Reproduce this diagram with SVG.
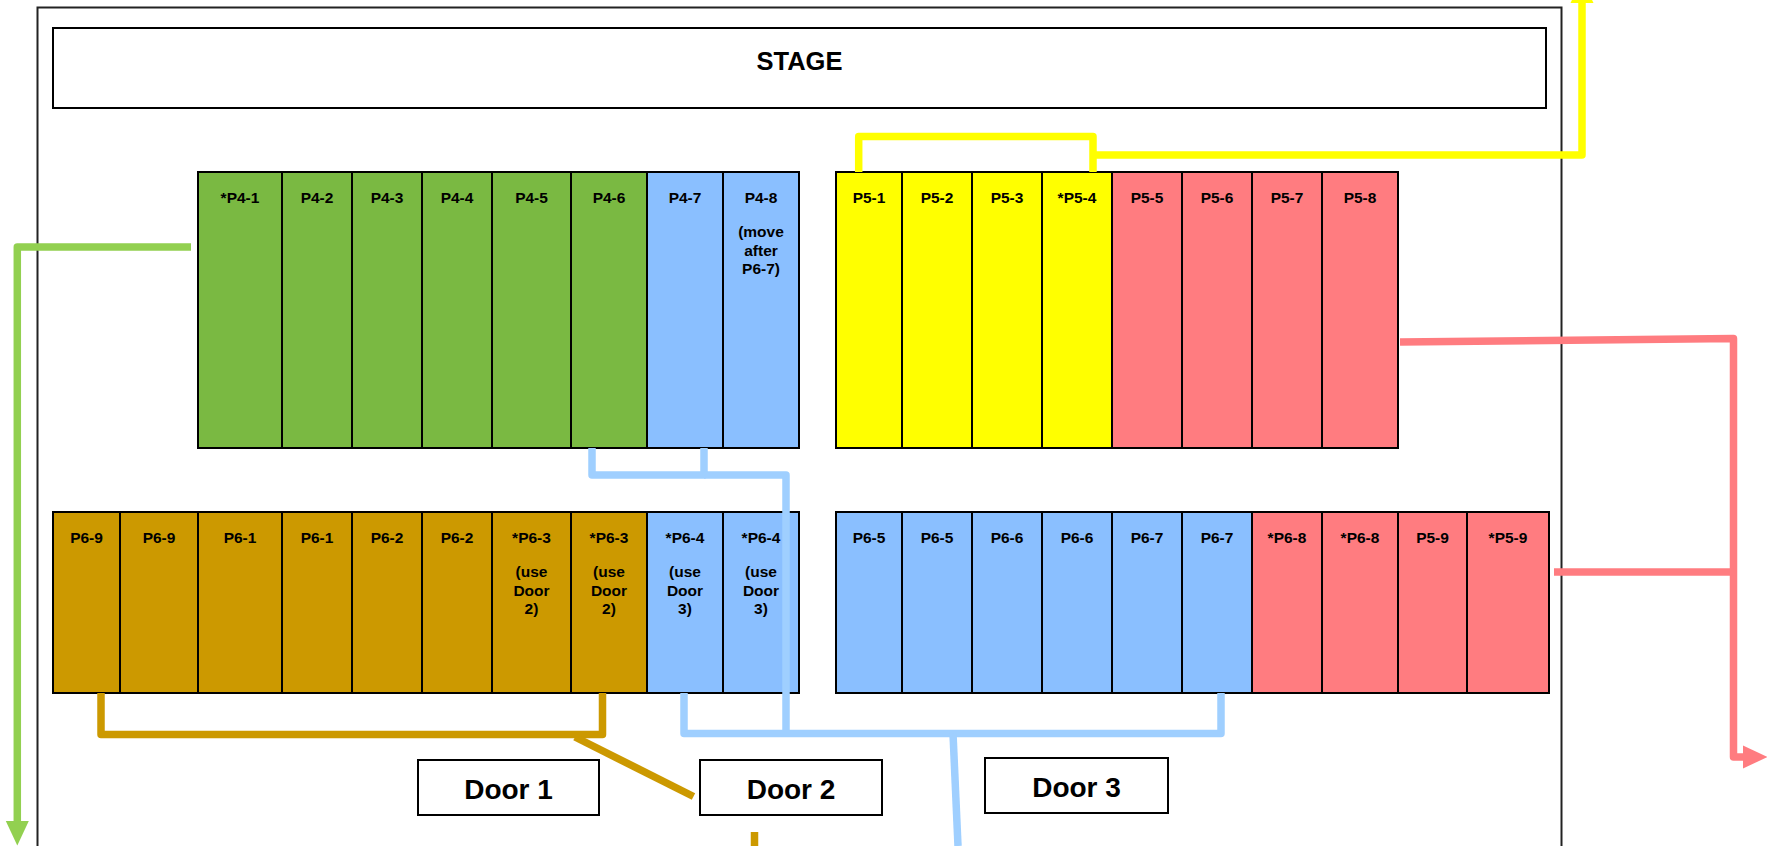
<svg xmlns="http://www.w3.org/2000/svg" width="1767" height="846" viewBox="0 0 1767 846">
<style>
.cell{stroke:#000;stroke-width:2}
.g{fill:#7ab942}.b{fill:#8abfff}.y{fill:#ffff00}.p{fill:#ff7c80}.o{fill:#cc9900}
.lbl{font-family:"Liberation Sans",Arial,sans-serif;font-weight:bold;font-size:15.5px;fill:#000;text-anchor:middle}
.door{fill:#fff;stroke:#000;stroke-width:2}
.dt{font-family:"Liberation Sans",Arial,sans-serif;font-weight:bold;font-size:28px;fill:#000;text-anchor:middle}
.c{fill:none;stroke-width:7.5;stroke-linejoin:round;stroke-linecap:butt}
</style>
<defs>
<marker id="ahG" markerUnits="userSpaceOnUse" markerWidth="25" markerHeight="24" refX="0" refY="11.5" orient="auto" overflow="visible"><path d="M0,0 L24.5,11.5 L0,23 Z" fill="#92d050"/></marker>
<marker id="ahY" markerUnits="userSpaceOnUse" markerWidth="25" markerHeight="24" refX="0" refY="11.5" orient="auto" overflow="visible"><path d="M0,0 L24.5,11.5 L0,23 Z" fill="#ffff00"/></marker>
<marker id="ahP" markerUnits="userSpaceOnUse" markerWidth="25" markerHeight="24" refX="0" refY="11.5" orient="auto" overflow="visible"><path d="M0,0 L24.5,11.5 L0,23 Z" fill="#ff7c80"/></marker>
</defs>
<rect width="1767" height="846" fill="#fff"/>
<g id="room"><rect x="37.5" y="7.5" width="1524" height="860" fill="none" stroke="#222" stroke-width="2"/></g>
<g id="stage"><rect x="53" y="28" width="1493" height="80" fill="#fff" stroke="#000" stroke-width="2"/><text x="799.5" y="70" font-family="Liberation Sans,Arial,sans-serif" font-weight="bold" font-size="25.5" text-anchor="middle">STAGE</text></g>

<g id="P4-1"><rect class="cell g" x="198" y="172" width="84" height="276"/><text class="lbl" x="240" y="203">*P4-1</text></g>
<g id="P4-2"><rect class="cell g" x="282" y="172" width="70" height="276"/><text class="lbl" x="317" y="203">P4-2</text></g>
<g id="P4-3"><rect class="cell g" x="352" y="172" width="70" height="276"/><text class="lbl" x="387" y="203">P4-3</text></g>
<g id="P4-4"><rect class="cell g" x="422" y="172" width="70" height="276"/><text class="lbl" x="457" y="203">P4-4</text></g>
<g id="P4-5"><rect class="cell g" x="492" y="172" width="79" height="276"/><text class="lbl" x="531.5" y="203">P4-5</text></g>
<g id="P4-6"><rect class="cell g" x="571" y="172" width="76" height="276"/><text class="lbl" x="609" y="203">P4-6</text></g>
<g id="P4-7"><rect class="cell b" x="647" y="172" width="76" height="276"/><text class="lbl" x="685" y="203">P4-7</text></g>
<g id="P4-8"><rect class="cell b" x="723" y="172" width="76" height="276"/><text class="lbl" x="761" y="203">P4-8</text><text class="lbl" x="761" y="237">(move</text><text class="lbl" x="761" y="255.5">after</text><text class="lbl" x="761" y="274">P6-7)</text></g>

<g id="P5-1"><rect class="cell y" x="836" y="172" width="66" height="276"/><text class="lbl" x="869" y="203">P5-1</text></g>
<g id="P5-2"><rect class="cell y" x="902" y="172" width="70" height="276"/><text class="lbl" x="937" y="203">P5-2</text></g>
<g id="P5-3"><rect class="cell y" x="972" y="172" width="70" height="276"/><text class="lbl" x="1007" y="203">P5-3</text></g>
<g id="P5-4"><rect class="cell y" x="1042" y="172" width="70" height="276"/><text class="lbl" x="1077" y="203">*P5-4</text></g>
<g id="P5-5"><rect class="cell p" x="1112" y="172" width="70" height="276"/><text class="lbl" x="1147" y="203">P5-5</text></g>
<g id="P5-6"><rect class="cell p" x="1182" y="172" width="70" height="276"/><text class="lbl" x="1217" y="203">P5-6</text></g>
<g id="P5-7"><rect class="cell p" x="1252" y="172" width="70" height="276"/><text class="lbl" x="1287" y="203">P5-7</text></g>
<g id="P5-8"><rect class="cell p" x="1322" y="172" width="76" height="276"/><text class="lbl" x="1360" y="203">P5-8</text></g>

<g id="P6-9a"><rect class="cell o" x="53" y="512" width="67" height="181"/><text class="lbl" x="86.5" y="543">P6-9</text></g>
<g id="P6-9b"><rect class="cell o" x="120" y="512" width="78" height="181"/><text class="lbl" x="159" y="543">P6-9</text></g>
<g id="P6-1a"><rect class="cell o" x="198" y="512" width="84" height="181"/><text class="lbl" x="240" y="543">P6-1</text></g>
<g id="P6-1b"><rect class="cell o" x="282" y="512" width="70" height="181"/><text class="lbl" x="317" y="543">P6-1</text></g>
<g id="P6-2a"><rect class="cell o" x="352" y="512" width="70" height="181"/><text class="lbl" x="387" y="543">P6-2</text></g>
<g id="P6-2b"><rect class="cell o" x="422" y="512" width="70" height="181"/><text class="lbl" x="457" y="543">P6-2</text></g>
<g id="P6-3a"><rect class="cell o" x="492" y="512" width="79" height="181"/><text class="lbl" x="531.5" y="543">*P6-3</text><text class="lbl" x="531.5" y="577">(use</text><text class="lbl" x="531.5" y="596">Door</text><text class="lbl" x="531.5" y="614">2)</text></g>
<g id="P6-3b"><rect class="cell o" x="571" y="512" width="76" height="181"/><text class="lbl" x="609" y="543">*P6-3</text><text class="lbl" x="609" y="577">(use</text><text class="lbl" x="609" y="596">Door</text><text class="lbl" x="609" y="614">2)</text></g>
<g id="P6-4a"><rect class="cell b" x="647" y="512" width="76" height="181"/><text class="lbl" x="685" y="543">*P6-4</text><text class="lbl" x="685" y="577">(use</text><text class="lbl" x="685" y="596">Door</text><text class="lbl" x="685" y="614">3)</text></g>
<g id="P6-4b"><rect class="cell b" x="723" y="512" width="76" height="181"/><text class="lbl" x="761" y="543">*P6-4</text><text class="lbl" x="761" y="577">(use</text><text class="lbl" x="761" y="596">Door</text><text class="lbl" x="761" y="614">3)</text></g>

<g id="P6-5a"><rect class="cell b" x="836" y="512" width="66" height="181"/><text class="lbl" x="869" y="543">P6-5</text></g>
<g id="P6-5b"><rect class="cell b" x="902" y="512" width="70" height="181"/><text class="lbl" x="937" y="543">P6-5</text></g>
<g id="P6-6a"><rect class="cell b" x="972" y="512" width="70" height="181"/><text class="lbl" x="1007" y="543">P6-6</text></g>
<g id="P6-6b"><rect class="cell b" x="1042" y="512" width="70" height="181"/><text class="lbl" x="1077" y="543">P6-6</text></g>
<g id="P6-7a"><rect class="cell b" x="1112" y="512" width="70" height="181"/><text class="lbl" x="1147" y="543">P6-7</text></g>
<g id="P6-7b"><rect class="cell b" x="1182" y="512" width="70" height="181"/><text class="lbl" x="1217" y="543">P6-7</text></g>
<g id="P6-8a"><rect class="cell p" x="1252" y="512" width="70" height="181"/><text class="lbl" x="1287" y="543">*P6-8</text></g>
<g id="P6-8b"><rect class="cell p" x="1322" y="512" width="76" height="181"/><text class="lbl" x="1360" y="543">*P6-8</text></g>
<g id="P5-9a"><rect class="cell p" x="1398" y="512" width="69" height="181"/><text class="lbl" x="1432.5" y="543">P5-9</text></g>
<g id="P5-9b"><rect class="cell p" x="1467" y="512" width="82" height="181"/><text class="lbl" x="1508" y="543">*P5-9</text></g>

<g id="door1"><rect class="door" x="418" y="760" width="181" height="55"/><text class="dt" x="508.5" y="799">Door 1</text></g>
<g id="door2"><rect class="door" x="700" y="760" width="182" height="55"/><text class="dt" x="791" y="799">Door 2</text></g>
<g id="door3"><rect class="door" x="985" y="758" width="183" height="55"/><text class="dt" x="1076.5" y="797">Door 3</text></g>

<g id="connectors">
<path class="c" stroke="#92d050" d="M191,247 L17.3,247 L17.3,821" marker-end="url(#ahG)"/>
<path class="c" stroke="#ffff00" d="M858.7,172 L858.7,136.5 L1093,136.5 L1093,172"/>
<path class="c" stroke="#ffff00" d="M1093,155 L1582,155 L1582,3" marker-end="url(#ahY)"/>
<path class="c" stroke="#ff7c80" d="M1400,342 L1733.5,338.5 L1733.5,757 L1743,757" marker-end="url(#ahP)"/>
<path class="c" stroke="#ff7c80" d="M1554,572 L1733.5,572"/>
<path class="c" stroke="#9fcfff" d="M592,448 L592,475 L704,475 L704,448"/>
<path class="c" stroke="#9fcfff" d="M704,475 L786,475 L786,733.5"/>
<path class="c" stroke="#9fcfff" d="M684,693 L684,733.5 L1221,733.5 L1221,693"/>
<path class="c" stroke="#9fcfff" d="M953,733.5 L958,846"/>
<path class="c" stroke="#cc9900" d="M101,693 L101,734.5 L602.5,734.5 L602.5,693"/>
<path class="c" stroke="#cc9900" d="M575,737 L693.5,796.5"/>
<path class="c" stroke="#cc9900" d="M754.5,832 L754.5,846"/>
</g>
</svg>
